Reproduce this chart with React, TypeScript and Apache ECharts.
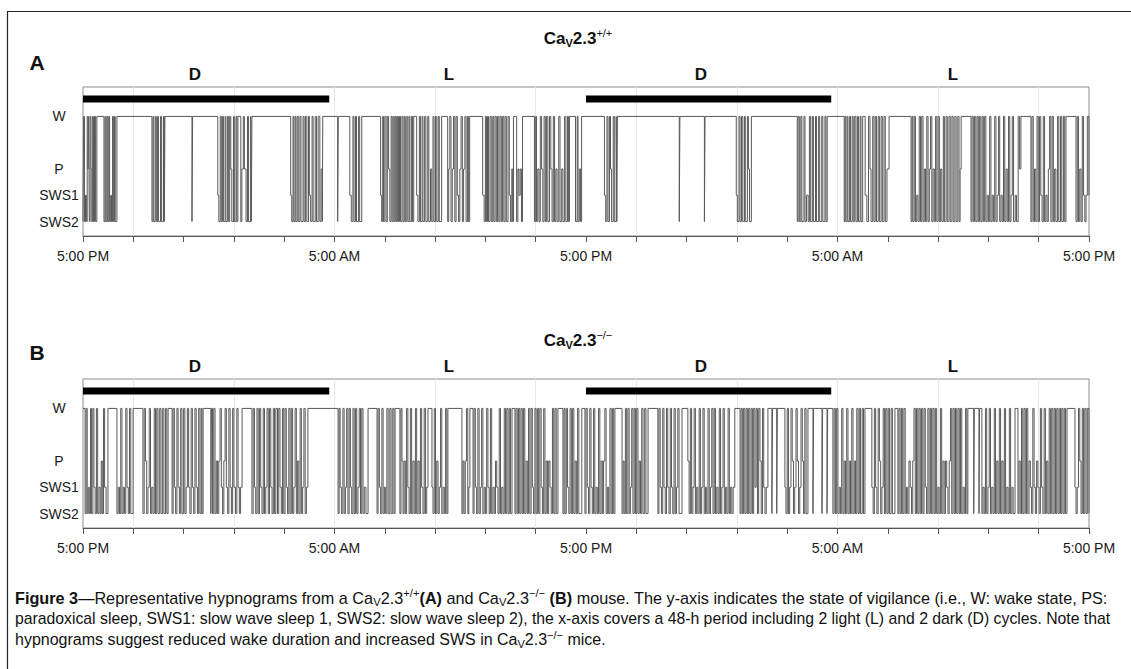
import React, { useEffect, useRef } from 'react';
import * as echarts from 'echarts';

// States: W = 4, P = 2, SWS1 = 1, SWS2 = 0. Pairs are [hours since 5:00 PM, state from that time on].
const STATE_VALUES = [4, 2, 1, 0];
const STATE_NAMES = ['W', 'P', 'SWS1', 'SWS2'];
const TIME_LABELS = ['5:00 PM', '5:00 AM', '5:00 PM', '5:00 AM', '5:00 PM'];
const PERIOD_LABELS = ['D', 'L', 'D', 'L'];
const DARK_BARS = [[0, 11.75], [24, 35.7]];
const GRID_HOURS = [2.4, 7.2, 12, 16.8, 21.6, 26.4, 31.2, 36, 40.8, 45.6];
const BAR_LEVEL = 4.66;

// ---- Ca_v2.3 +/+ ----
const A_DARK1 = [
  [0, 0], [0.03, 4], [0.07, 0], [0.12, 1], [0.16, 0], [0.2, 4], [0.24, 2], [0.27, 4], [0.3, 0], [0.34, 4], [0.38, 2], [0.42, 0], [0.46, 4], [0.5, 0], [0.55, 4], [0.6, 0], [0.66, 4],
  [1.0, 0], [1.05, 4], [1.09, 0], [1.14, 4], [1.18, 0], [1.23, 4], [1.27, 0], [1.32, 1], [1.36, 0], [1.41, 4], [1.45, 0], [1.5, 4], [1.54, 0], [1.62, 4],
  [3.29, 0], [3.34, 4], [3.38, 0], [3.45, 4], [3.5, 0], [3.56, 4], [3.6, 0], [3.7, 4], [3.75, 0], [3.84, 4], [3.88, 0], [3.91, 4],
  [5.2, 0], [5.23, 4],
  [6.43, 1], [6.48, 0], [6.55, 4], [6.6, 0], [6.66, 4], [6.7, 0], [6.78, 4], [6.82, 0], [6.9, 4], [6.95, 0], [7.0, 4], [7.05, 2], [7.1, 0], [7.18, 4], [7.22, 0], [7.3, 4], [7.34, 0], [7.39, 4],
  [7.53, 0], [7.58, 2], [7.65, 4], [7.7, 2], [7.78, 0], [7.85, 4], [7.9, 0], [8.0, 4], [8.03, 0], [8.06, 4],
  [9.91, 1], [9.96, 0], [10.02, 4], [10.06, 0], [10.12, 4], [10.16, 0], [10.22, 4], [10.27, 0], [10.35, 4], [10.4, 0], [10.5, 4], [10.55, 0], [10.62, 4], [10.68, 0], [10.76, 4], [10.8, 1], [10.86, 0], [10.93, 4], [10.98, 0], [11.08, 4], [11.14, 0], [11.22, 4], [11.3, 0], [11.36, 2], [11.42, 0], [11.44, 4],
];
const A_LIGHT1 = [
  [12.15, 0], [12.18, 4],
  [12.73, 1], [12.8, 0], [12.88, 4], [12.93, 0], [13.0, 4], [13.05, 0], [13.15, 4], [13.2, 0], [13.3, 4],
  [14.2, 1], [14.25, 0], [14.3, 4], [14.34, 0], [14.4, 4], [14.46, 0], [14.52, 4], [14.58, 2], [14.64, 0], [14.7, 4], [14.75, 0], [14.8, 4], [14.85, 0], [14.9, 4], [14.95, 0], [15.0, 4], [15.05, 0], [15.1, 4], [15.15, 0], [15.22, 4], [15.27, 0], [15.33, 4], [15.38, 0], [15.45, 4], [15.5, 0], [15.56, 4], [15.6, 0], [15.68, 4], [15.72, 0], [15.78, 4],
  [15.92, 1], [15.98, 0], [16.05, 4], [16.1, 0], [16.18, 4], [16.22, 0], [16.3, 4], [16.36, 0], [16.45, 4], [16.5, 0], [16.58, 2], [16.64, 0], [16.7, 4], [16.75, 0], [16.82, 4], [16.88, 0], [16.95, 4], [17.0, 0], [17.11, 4],
  [17.4, 0], [17.45, 2], [17.5, 4], [17.56, 0], [17.62, 2], [17.68, 4], [17.74, 0], [17.8, 4], [17.86, 1], [17.92, 0], [17.98, 2], [18.04, 4], [18.1, 0], [18.16, 2], [18.22, 4], [18.28, 0], [18.35, 4], [18.4, 0], [18.45, 4],
  [19.07, 1], [19.14, 0], [19.2, 4], [19.25, 0], [19.3, 4], [19.35, 0], [19.42, 4], [19.48, 0], [19.55, 4], [19.6, 0], [19.66, 4], [19.72, 0], [19.78, 4], [19.84, 0], [19.9, 4], [19.96, 0], [20.02, 4], [20.08, 0], [20.14, 4], [20.2, 0], [20.28, 4], [20.34, 1], [20.4, 0], [20.46, 2], [20.5, 0], [20.54, 4],
  [20.69, 0], [20.75, 2], [20.8, 1], [20.86, 2], [20.92, 0], [20.97, 4],
  [21.54, 0], [21.6, 4], [21.64, 0], [21.7, 2], [21.76, 0], [21.82, 4], [21.88, 2], [21.94, 0], [22.0, 4], [22.06, 0], [22.12, 4], [22.18, 0], [22.26, 4], [22.32, 2], [22.38, 0], [22.44, 4], [22.5, 0], [22.56, 2], [22.62, 0], [22.7, 4], [22.76, 0], [22.84, 2], [22.9, 0], [22.98, 4], [23.04, 0], [23.12, 4], [23.16, 0], [23.21, 4],
  [23.5, 0], [23.58, 4], [23.62, 0], [23.68, 2], [23.74, 0], [23.79, 4],
];
const A_DARK2 = [
  [24.88, 1], [24.94, 0], [25.0, 4], [25.05, 0], [25.12, 4], [25.17, 2], [25.22, 0], [25.3, 4], [25.35, 0], [25.44, 4], [25.47, 0], [25.5, 4],
  [28.45, 0], [28.48, 4],
  [29.65, 0], [29.68, 4],
  [31.17, 1], [31.22, 0], [31.3, 4], [31.35, 0], [31.42, 4], [31.48, 0], [31.56, 4], [31.6, 0], [31.7, 4], [31.75, 2], [31.8, 0], [31.89, 4],
  [34.08, 0], [34.12, 4], [34.18, 0], [34.25, 4], [34.3, 0], [34.4, 4], [34.45, 0], [34.52, 1], [34.6, 0], [34.66, 4], [34.72, 0], [34.8, 4], [34.85, 0], [34.95, 4], [35.0, 0], [35.1, 4], [35.15, 0], [35.25, 4], [35.3, 0], [35.4, 4], [35.45, 0], [35.51, 4],
];
const A_LIGHT2 = [
  [36.32, 0], [36.36, 4], [36.4, 0], [36.46, 4], [36.5, 0], [36.58, 4], [36.62, 0], [36.7, 4], [36.75, 0], [36.82, 4], [36.88, 0], [36.95, 4], [37.0, 0], [37.08, 4], [37.12, 0], [37.2, 4],
  [37.32, 1], [37.4, 0], [37.48, 4], [37.55, 2], [37.6, 0], [37.68, 4], [37.74, 0], [37.8, 4], [37.86, 0], [37.94, 4], [38.0, 0], [38.08, 4], [38.14, 0], [38.22, 4], [38.28, 0], [38.36, 2], [38.46, 4],
  [39.51, 0], [39.56, 4], [39.6, 0], [39.66, 4], [39.72, 0], [39.78, 1], [39.84, 0], [39.9, 4], [39.96, 0], [40.02, 4], [40.08, 0], [40.14, 2], [40.2, 0], [40.26, 4], [40.32, 0], [40.38, 2], [40.44, 4], [40.5, 0], [40.56, 2], [40.62, 0], [40.68, 4], [40.74, 0], [40.8, 4], [40.86, 0], [40.92, 2], [40.98, 0], [41.05, 4], [41.1, 0], [41.18, 4], [41.24, 0], [41.32, 4], [41.38, 0], [41.46, 4], [41.52, 0], [41.6, 4], [41.66, 0], [41.74, 4], [41.8, 0], [41.85, 2], [41.9, 4],
  [42.37, 0], [42.42, 4], [42.48, 0], [42.54, 4], [42.6, 0], [42.66, 4], [42.72, 0], [42.78, 4], [42.84, 0], [42.9, 4], [42.96, 0], [43.02, 4], [43.08, 0], [43.14, 1], [43.2, 0], [43.26, 4], [43.32, 0], [43.38, 1], [43.44, 0], [43.5, 4], [43.56, 0], [43.62, 1], [43.68, 4], [43.74, 0], [43.8, 1], [43.86, 0], [43.92, 4], [43.98, 0], [44.04, 2], [44.1, 0], [44.16, 4], [44.22, 0], [44.28, 1], [44.34, 4], [44.4, 0], [44.48, 1], [44.54, 0], [44.62, 4], [44.68, 2], [44.75, 4],
  [45.23, 0], [45.28, 4], [45.34, 0], [45.4, 2], [45.46, 0], [45.52, 4], [45.58, 0], [45.64, 4], [45.7, 1], [45.76, 0], [45.82, 4], [45.88, 0], [45.94, 1], [46.0, 0], [46.06, 2], [46.12, 4], [46.18, 0], [46.24, 4], [46.3, 0], [46.36, 2], [46.42, 0], [46.5, 4], [46.56, 0], [46.64, 4], [46.7, 0], [46.78, 4], [46.84, 0], [46.9, 4],
  [47.38, 0], [47.44, 4], [47.5, 0], [47.56, 2], [47.62, 0], [47.68, 4], [47.74, 1], [47.8, 0], [47.86, 1], [47.92, 4], [48, 1],
];

// ---- Ca_v2.3 -/- ----
const B_DARK1 = [
  [0, 4], [0.1, 0], [0.15, 4], [0.2, 0], [0.25, 1], [0.3, 0], [0.36, 4], [0.41, 0], [0.47, 4], [0.52, 1], [0.58, 0], [0.64, 4], [0.7, 0], [0.76, 1], [0.82, 0], [0.87, 2], [0.92, 0], [0.98, 4], [1.03, 1], [1.1, 0], [1.19, 4],
  [1.62, 0], [1.68, 1], [1.74, 0], [1.8, 4], [1.86, 0], [1.92, 1], [1.98, 0], [2.04, 4], [2.1, 1], [2.16, 0], [2.22, 4], [2.28, 0], [2.39, 4],
  [2.86, 0], [2.92, 4], [2.98, 2], [3.04, 0], [3.1, 1], [3.16, 4], [3.22, 0], [3.28, 1], [3.34, 0], [3.4, 4], [3.46, 0], [3.52, 4], [3.58, 0], [3.66, 4], [3.72, 0], [3.8, 4], [3.86, 0], [3.94, 4], [4.0, 0], [4.06, 4],
  [4.25, 0], [4.3, 4], [4.36, 1], [4.42, 0], [4.48, 4], [4.54, 1], [4.6, 0], [4.66, 4], [4.72, 0], [4.8, 4], [4.86, 0], [4.92, 1], [4.98, 4], [5.04, 1], [5.1, 0], [5.16, 4], [5.22, 1], [5.28, 0], [5.34, 4], [5.4, 1], [5.46, 0], [5.52, 4], [5.58, 0], [5.64, 4], [5.68, 0], [5.73, 4],
  [6.1, 0], [6.13, 4], [6.18, 0], [6.24, 4], [6.3, 0], [6.36, 2], [6.42, 0], [6.48, 2], [6.54, 4], [6.6, 1], [6.66, 0], [6.72, 2], [6.78, 4], [6.84, 1], [6.9, 0], [6.96, 4], [7.02, 1], [7.08, 0], [7.14, 4], [7.2, 1], [7.28, 0], [7.34, 4], [7.4, 1], [7.46, 0], [7.52, 1], [7.59, 4],
  [8.06, 0], [8.12, 4], [8.18, 1], [8.24, 0], [8.3, 4], [8.36, 0], [8.42, 4], [8.48, 1], [8.54, 0], [8.6, 4], [8.66, 0], [8.72, 1], [8.78, 4], [8.84, 0], [8.9, 4], [8.96, 1], [9.02, 0], [9.08, 4], [9.14, 0], [9.2, 4], [9.28, 0], [9.34, 4], [9.4, 1], [9.46, 0], [9.52, 4], [9.58, 0], [9.64, 4], [9.7, 1], [9.76, 0], [9.82, 4], [9.88, 0], [9.94, 4], [10.0, 0], [10.06, 1], [10.12, 4], [10.18, 0], [10.24, 2], [10.3, 0], [10.36, 4], [10.42, 0], [10.48, 1], [10.54, 4], [10.6, 0], [10.66, 1], [10.73, 4],
];
const B_LIGHT1 = [
  [12.17, 0], [12.22, 4], [12.27, 1], [12.33, 0], [12.4, 4], [12.46, 0], [12.52, 1], [12.58, 4], [12.64, 0], [12.7, 4], [12.76, 1], [12.82, 0], [12.88, 4], [12.94, 0], [13.0, 4], [13.06, 0], [13.12, 1], [13.18, 4], [13.24, 0], [13.3, 4], [13.36, 0], [13.42, 1], [13.5, 0], [13.6, 4],
  [14.03, 0], [14.08, 4], [14.14, 1], [14.2, 0], [14.26, 4], [14.32, 0], [14.38, 1], [14.44, 0], [14.5, 4], [14.56, 0], [14.64, 4], [14.7, 0], [14.78, 4], [14.84, 0], [14.89, 4],
  [15.12, 0], [15.17, 4], [15.22, 2], [15.27, 0], [15.32, 2], [15.38, 0], [15.44, 4], [15.5, 1], [15.56, 0], [15.62, 4], [15.68, 0], [15.74, 2], [15.8, 0], [15.86, 4], [15.92, 0], [15.98, 2], [16.04, 0], [16.1, 4], [16.16, 1], [16.22, 0], [16.28, 4], [16.34, 0], [16.4, 1], [16.46, 4],
  [16.65, 1], [16.7, 0], [16.76, 4], [16.82, 0], [16.88, 2], [16.94, 0], [17.0, 1], [17.06, 4], [17.12, 0], [17.18, 1], [17.24, 0], [17.3, 4], [17.36, 0], [17.41, 4],
  [18.08, 0], [18.13, 2], [18.18, 0], [18.24, 2], [18.3, 4], [18.36, 0], [18.41, 1], [18.46, 4],
  [18.61, 0], [18.66, 4], [18.72, 1], [18.78, 0], [18.84, 4], [18.9, 0], [18.96, 1], [19.02, 4], [19.08, 0], [19.14, 1], [19.2, 0], [19.26, 4], [19.32, 1], [19.38, 0], [19.44, 4], [19.5, 0], [19.56, 1], [19.62, 0], [19.68, 2], [19.74, 1], [19.8, 0], [19.86, 4], [19.92, 0], [19.98, 1], [20.04, 0], [20.1, 4], [20.16, 0], [20.22, 4], [20.28, 0], [20.34, 4], [20.4, 0], [20.47, 4],
  [20.61, 0], [20.66, 4], [20.72, 0], [20.78, 4], [20.84, 0], [20.9, 4], [20.96, 0], [21.02, 4], [21.08, 0], [21.14, 2], [21.2, 0],
  [21.26, 4], [21.32, 0], [21.38, 4], [21.44, 1], [21.5, 0], [21.56, 4], [21.62, 0], [21.68, 4], [21.74, 0], [21.8, 4], [21.86, 1], [21.92, 0], [21.98, 4], [22.04, 0], [22.1, 2], [22.16, 0], [22.22, 2], [22.28, 1], [22.34, 0], [22.4, 4], [22.46, 0], [22.52, 4], [22.58, 0], [22.66, 4],
  [22.9, 0], [22.95, 4], [23.0, 0], [23.06, 4], [23.12, 1], [23.18, 0], [23.24, 4], [23.3, 0], [23.36, 4], [23.42, 0], [23.48, 2], [23.54, 0], [23.6, 4], [23.66, 0], [23.72, 0], [23.8, 4],
];
const B_DARK2 = [
  [23.95, 0], [24.0, 4], [24.06, 1], [24.12, 0], [24.18, 4], [24.24, 1], [24.3, 0], [24.36, 4], [24.42, 0], [24.48, 1], [24.54, 0], [24.6, 4], [24.66, 0], [24.72, 2], [24.78, 0], [24.84, 2], [24.9, 4], [24.96, 0], [25.02, 1], [25.08, 0], [25.14, 4], [25.2, 0], [25.26, 4], [25.32, 0], [25.38, 4],
  [25.72, 0], [25.77, 2], [25.82, 0], [25.88, 4], [25.94, 0], [26.0, 4], [26.06, 0], [26.12, 1], [26.18, 4], [26.24, 0], [26.3, 4], [26.36, 0], [26.42, 4], [26.48, 0], [26.54, 2], [26.6, 0], [26.66, 4], [26.72, 0], [26.8, 4], [26.86, 0], [26.96, 4],
  [27.43, 0], [27.48, 4], [27.54, 1], [27.6, 0], [27.66, 4], [27.72, 1], [27.78, 0], [27.84, 4], [27.9, 1], [27.96, 0], [28.02, 4], [28.08, 1], [28.14, 0], [28.2, 4], [28.26, 0], [28.32, 1], [28.38, 4], [28.44, 0], [28.5, 0], [28.58, 4],
  [28.86, 2], [28.92, 0], [28.98, 4], [29.04, 0], [29.1, 1], [29.16, 4], [29.22, 0], [29.28, 1], [29.34, 0], [29.4, 4], [29.46, 0], [29.52, 1], [29.58, 4], [29.64, 0], [29.7, 1], [29.76, 0], [29.82, 4], [29.88, 0], [29.94, 1], [30.0, 4], [30.06, 0], [30.12, 4], [30.18, 0], [30.24, 1], [30.3, 0], [30.36, 4], [30.42, 0], [30.48, 1], [30.54, 4], [30.6, 0], [30.66, 1], [30.72, 0], [30.78, 4], [30.84, 0], [30.9, 1], [30.96, 0], [31.02, 1], [31.1, 4],
  [31.35, 0], [31.4, 4], [31.46, 0], [31.52, 4], [31.58, 0], [31.64, 4], [31.7, 0], [31.76, 4], [31.82, 0], [31.88, 4], [31.94, 0], [32.0, 4], [32.06, 1], [32.12, 4], [32.18, 0], [32.24, 4], [32.3, 2], [32.36, 0], [32.42, 4], [32.48, 1], [32.54, 0], [32.6, 1], [32.68, 4],
  [32.87, 0], [32.9, 4], [33.1, 0], [33.13, 4],
  [33.49, 1], [33.54, 0], [33.6, 4], [33.66, 0], [33.72, 1], [33.78, 4], [33.84, 2], [33.9, 0], [33.96, 1], [34.02, 4], [34.08, 2], [34.14, 0], [34.2, 1], [34.26, 4], [34.32, 2], [34.38, 0], [34.44, 4], [34.5, 0], [34.59, 4],
  [34.83, 0], [34.86, 4], [35.26, 0], [35.29, 4], [35.5, 0], [35.53, 4],
  [35.78, 0], [35.84, 4], [35.9, 0], [35.96, 4],
];
const B_LIGHT2 = [
  [36.02, 0], [36.08, 1], [36.14, 0], [36.2, 4], [36.26, 0], [36.32, 2], [36.38, 0], [36.44, 4], [36.5, 0], [36.56, 2], [36.62, 0], [36.68, 4], [36.74, 0], [36.8, 2], [36.86, 0], [36.92, 4], [36.98, 0], [37.04, 4], [37.1, 0], [37.18, 4], [37.24, 0], [37.31, 4],
  [37.64, 1], [37.7, 0], [37.76, 4], [37.82, 1], [37.88, 0], [37.94, 4], [38.0, 2], [38.06, 0], [38.12, 1], [38.18, 4], [38.24, 0], [38.3, 4], [38.36, 0], [38.42, 4], [38.48, 0], [38.56, 4], [38.62, 0], [38.74, 4],
  [38.88, 0], [38.93, 4], [38.99, 0], [39.05, 4], [39.11, 0], [39.17, 4], [39.23, 0], [39.29, 1], [39.35, 0], [39.41, 2], [39.47, 1], [39.53, 0], [39.59, 2], [39.65, 4], [39.71, 0], [39.77, 4], [39.83, 0], [39.89, 4], [39.95, 0], [40.01, 4], [40.07, 0], [40.13, 4], [40.19, 1], [40.25, 0], [40.31, 4], [40.37, 0], [40.43, 4], [40.49, 0], [40.55, 4], [40.61, 0], [40.67, 4], [40.73, 0], [40.79, 1], [40.85, 0], [40.91, 4], [40.97, 0], [41.03, 2], [41.09, 0], [41.15, 2], [41.21, 1], [41.27, 0], [41.33, 2], [41.39, 4], [41.45, 0], [41.51, 4], [41.57, 0], [41.63, 4], [41.69, 0], [41.75, 4], [41.81, 0], [41.87, 4], [41.93, 0], [41.99, 1], [42.05, 0], [42.11, 4], [42.17, 0], [42.22, 4],
  [42.5, 0], [42.53, 4], [42.75, 0], [42.78, 4],
  [42.89, 0], [42.94, 1], [43.0, 0], [43.06, 4], [43.12, 0], [43.18, 1], [43.24, 4], [43.3, 0], [43.36, 1], [43.42, 0], [43.48, 4], [43.54, 0], [43.6, 2], [43.66, 0], [43.72, 4], [43.78, 0], [43.84, 2], [43.9, 0], [43.96, 4], [44.02, 0], [44.08, 1], [44.14, 0], [44.2, 4], [44.26, 0], [44.32, 1], [44.38, 0], [44.47, 4],
  [44.61, 0], [44.66, 2], [44.72, 0], [44.78, 4], [44.84, 0], [44.9, 4], [44.96, 0], [45.02, 4], [45.08, 0], [45.14, 2], [45.2, 1], [45.26, 0], [45.32, 4], [45.38, 1], [45.44, 0], [45.5, 2], [45.56, 1], [45.62, 0], [45.68, 4], [45.74, 1], [45.8, 0], [45.86, 4], [45.92, 0], [45.98, 2], [46.04, 0], [46.1, 4], [46.16, 0], [46.22, 4], [46.28, 0], [46.34, 4], [46.4, 0], [46.46, 4], [46.52, 0], [46.58, 4], [46.64, 0], [46.7, 4], [46.76, 0], [46.82, 4], [46.88, 0], [46.95, 4],
  [47.33, 1], [47.38, 0], [47.44, 1], [47.5, 4], [47.56, 2], [47.62, 0], [47.68, 4], [47.74, 0], [47.8, 4], [47.86, 0], [47.92, 4], [48, 0],
];

const HYPNO_A = [...A_DARK1, ...A_LIGHT1, ...A_DARK2, ...A_LIGHT2];
const HYPNO_B = [...B_DARK1, ...B_LIGHT1, ...B_DARK2, ...B_LIGHT2];

const CAPTION_LINES = [
  '{b|Figure 3}{n|—Representative hypnograms from a Ca}{sub|V}{n|2.3}{sup|+/+}{b|(A)}{n| and Ca}{sub|V}{n|2.3}{sup|−/−}{n| }{b|(B)}{n| mouse. The y-axis indicates the state of vigilance (i.e., W: wake state, PS:}',
  '{n|paradoxical sleep, SWS1: slow wave sleep 1, SWS2: slow wave sleep 2), the x-axis covers a 48-h period including 2 light (L) and 2 dark (D) cycles. Note that}',
  '{n|hypnograms suggest reduced wake duration and increased SWS in Ca}{sub|V}{n|2.3}{sup|−/−}{n| mice.}',
];
const PANEL_TITLES = [
  '{b|Ca}{sub|V}{b|2.3}{sup|+/+}',
  '{b|Ca}{sub|V}{b|2.3}{sup|−/−}',
];
const PANEL_LETTERS = ['A', 'B'];

const FONT = "'Liberation Sans', Arial, Helvetica, sans-serif";

function timeLabel(v: number): string {
  const h = Math.round(v * 100) / 100;
  if (Math.abs(h % 12) < 0.01) return TIME_LABELS[Math.round(h / 12)] ?? '';
  return '';
}

function buildOption() {
  const panelTops = [87, 379];
  const hypnos = [HYPNO_A, HYPNO_B];
  const series: any[] = [];
  hypnos.forEach((data, i) => {
    series.push({
      type: 'line', xAxisIndex: i, yAxisIndex: i, data: [], symbol: 'none', silent: true, z: 1,
      markLine: {
        z: 1, silent: true, symbol: ['none', 'none'], label: { show: false },
        lineStyle: { color: '#e8e8e8', width: 1, type: 'solid' },
        emphasis: { disabled: true },
        data: GRID_HOURS.map((h) => ({ xAxis: h })),
      },
    });
    series.push({
      type: 'line', xAxisIndex: i, yAxisIndex: i, data, step: 'end', symbol: 'none',
      silent: true, z: 3, lineStyle: { color: '#595959', width: 1 },
    });
    DARK_BARS.forEach((bar) => {
      series.push({
        type: 'line', xAxisIndex: i, yAxisIndex: i, symbol: 'none', silent: true, z: 6,
        data: [[bar[0], BAR_LEVEL], [bar[1], BAR_LEVEL]],
        lineStyle: { color: '#000', width: 7, cap: 'butt' },
      });
    });
  });

  const rich = (size: number, bold: boolean) => ({
    n: { fontSize: size, fontFamily: FONT, fill: '#111', color: '#111', lineHeight: size + 4, fontWeight: 'normal' },
    b: { fontSize: size, fontFamily: FONT, fill: '#111', color: '#111', lineHeight: size + 4, fontWeight: 'bold' },
    sub: { fontSize: Math.round(size * 0.66), fontFamily: FONT, fill: '#111', color: '#111', lineHeight: Math.round(size * 0.66), verticalAlign: 'bottom', fontWeight: bold ? 'bold' : 'normal' },
    sup: { fontSize: Math.round(size * 0.66), fontFamily: FONT, fill: '#111', color: '#111', lineHeight: Math.round(size * 0.66), verticalAlign: 'top', fontWeight: 'normal' },
  });

  const periodX = [195, 449, 701, 953];
  const captionScale = [1.015, 0.986, 1];
  const graphics: any[] = [
    {
      type: 'rect', silent: true, z: 0,
      shape: { x: 7.5, y: 11.5, width: 1200, height: 720 },
      style: { fill: 'none', stroke: '#222', lineWidth: 1.2 },
    },
  ];
  [38, 340].forEach((y, i) => {
    graphics.push({
      type: 'text', x: 578, y, silent: true,
      style: { text: PANEL_TITLES[i], rich: rich(17, true), align: 'center', textAlign: 'center', verticalAlign: 'middle', textVerticalAlign: 'middle' },
    });
  });
  [62, 352].forEach((y, i) => {
    graphics.push({
      type: 'text', x: 37, y, silent: true,
      style: { text: PANEL_LETTERS[i], font: `bold 21px ${FONT}`, fill: '#111', align: 'center', textAlign: 'center', verticalAlign: 'middle', textVerticalAlign: 'middle' },
    });
  });
  [74, 366].forEach((y) => {
    PERIOD_LABELS.forEach((lab, k) => {
      graphics.push({
        type: 'text', x: periodX[k], y, silent: true,
        style: { text: lab, font: `bold 17px ${FONT}`, fill: '#111', align: 'center', textAlign: 'center', verticalAlign: 'middle', textVerticalAlign: 'middle' },
      });
    });
  });
  [598, 618, 639].forEach((y, i) => {
    graphics.push({
      type: 'text', x: 15, y, scaleX: captionScale[i], silent: true,
      style: { text: CAPTION_LINES[i], rich: rich(16, false), align: 'left', textAlign: 'left', verticalAlign: 'middle', textVerticalAlign: 'middle' },
    });
  });

  return {
    animation: false,
    backgroundColor: '#fff',
    grid: panelTops.map((top) => ({
      left: 83, top, width: 1006, height: 149, show: true,
      borderColor: '#8c8c8c', borderWidth: 1, backgroundColor: 'transparent',
    })),
    xAxis: panelTops.map((_, i) => ({
      type: 'value', gridIndex: i, min: 0, max: 48, interval: 2.4,
      axisLine: { show: true, onZero: false, lineStyle: { color: '#555', width: 1 } },
      axisTick: { show: true, length: 6, lineStyle: { color: '#555' } },
      axisLabel: { margin: 13, fontSize: 14, color: '#1a1a1a', fontFamily: FONT, formatter: timeLabel, showMinLabel: true, showMaxLabel: true },
      splitLine: { show: false },
    })),
    yAxis: panelTops.map((_, i) => ({
      type: 'value', gridIndex: i, min: -0.55, max: 5.12,
      axisLine: { show: false }, axisTick: { show: false }, splitLine: { show: false },
      axisLabel: {
        customValues: STATE_VALUES,
        formatter: (v: number) => STATE_NAMES[STATE_VALUES.indexOf(v)] ?? '',
        align: 'center', margin: 24, fontSize: 14, color: '#1a1a1a', fontFamily: FONT,
      },
    })),
    series,
    graphic: { elements: graphics },
  };
}

export default function App() {
  const ref = useRef<HTMLDivElement>(null);
  useEffect(() => {
    if (!ref.current) return;
    const chart = echarts.init(ref.current, null, { renderer: 'svg' });
    chart.setOption(buildOption() as any);
    return () => chart.dispose();
  }, []);
  return (
    <div
      ref={ref}
      style={{ position: 'absolute', left: 0, top: 0, width: 1131, height: 669, background: '#fff' }}
    />
  );
}
